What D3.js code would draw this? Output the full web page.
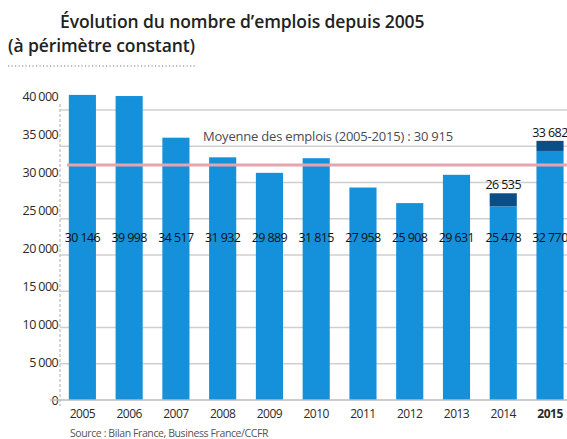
<!DOCTYPE html>
<html>
<head>
<meta charset="utf-8">
<script src="https://cdn.jsdelivr.net/npm/d3@7"></script>
<style>
  body { margin: 0; background: #fff; }
  text { font-family: "Open Sans", sans-serif; }
</style>
</head>
<body>
<svg id="chart" width="567" height="439"></svg>
<script>
// data
var years = ["2005", "2006", "2007", "2008", "2009", "2010", "2011", "2012", "2013", "2014", "2015"];
var values = [40146, 39998, 34517, 31932, 29889, 31815, 27958, 25908, 29631, 25478, 32770];
var valueLabels = ["30 146", "39 998", "34 517", "31 932", "29 889", "31 815", "27 958", "25 908", "29 631", "25 478", "32 770"];
// dark top part (2014, 2015)
var extraYears = ["2014", "2015"];
var extraTops = [27200, 34100];
var extraLabels = ["26 535", "33 682"];
var average = 30915;
var yTicks = [0, 5000, 10000, 15000, 20000, 25000, 30000, 35000, 40000];

var svg = d3.select("#chart");

var x = d3.scaleBand().domain(years).range([59, 573.4]).paddingInner(0.42).paddingOuter(0.21);
var y = d3.scaleLinear().domain([0, 40000]).range([400, 96]);
// the printed grid lines sit a little lower than the value scale
var yGrid = d3.scaleLinear().domain([0, 40000]).range([400, 110]);

var fmt = function(d) { return d3.format(",")(d).replace(/,/g, " "); };

// title
svg.append("text").attr("x", 60).attr("y", 28)
	.attr("font-size", 17.5).attr("font-weight", 600).attr("fill", "#222")
	.attr("letter-spacing", -0.1)
	.text("Évolution du nombre d’emplois depuis 2005");
svg.append("text").attr("x", 8).attr("y", 52)
	.attr("font-size", 17.5).attr("font-weight", 600).attr("fill", "#222")
	.attr("letter-spacing", -0.1)
	.text("(à périmètre constant)");
svg.append("line").attr("x1", 8).attr("x2", 197).attr("y1", 66).attr("y2", 66)
	.attr("stroke", "#777").attr("stroke-width", 1.2).attr("stroke-dasharray", "1.2,2.3");

// grid
svg.append("g").selectAll("line")
	.data(yTicks.slice(1))
	.join("line")
	.attr("x1", 60).attr("x2", 567)
	.attr("y1", d => yGrid(d)).attr("y2", d => yGrid(d))
	.attr("stroke", "#cfcfcf").attr("stroke-width", 1.5);

// vertical axis line
svg.append("line").attr("x1", 60).attr("x2", 60).attr("y1", 104).attr("y2", 406)
	.attr("stroke", "#bbbbbb").attr("stroke-width", 1.2).attr("stroke-dasharray", "3,2");

// y labels
var yAxis = svg.append("g").attr("transform", "translate(58,0)")
	.call(d3.axisLeft(y).tickValues(yTicks).tickSize(0).tickPadding(0).tickFormat(fmt));
yAxis.select(".domain").remove();
yAxis.selectAll("text").attr("font-size", 12.5).attr("fill", "#2a2a2a")
	.attr("letter-spacing", -0.6).style("font-family", "'Open Sans', sans-serif");

// bars
svg.append("g").selectAll("rect")
	.data(years)
	.join("rect")
	.attr("x", d => x(d))
	.attr("width", x.bandwidth())
	.attr("y", (d, i) => y(values[i]))
	.attr("height", (d, i) => y(0) - y(values[i]))
	.attr("fill", "#1591dc");

svg.append("g").selectAll("rect")
	.data(extraYears)
	.join("rect")
	.attr("x", d => x(d))
	.attr("width", x.bandwidth())
	.attr("y", (d, i) => y(extraTops[i]))
	.attr("height", (d, i) => y(values[years.indexOf(d)]) - y(extraTops[i]))
	.attr("fill", "#0b4d86");

// baseline
svg.append("line").attr("x1", 50).attr("x2", 567).attr("y1", 400).attr("y2", 400)
	.attr("stroke", "#bbbbbb").attr("stroke-width", 1.5);

// average
svg.append("line").attr("x1", 67).attr("x2", 567).attr("y1", y(average)).attr("y2", y(average))
	.attr("stroke", "#e6a4ac").attr("stroke-width", 3);
svg.append("text").attr("x", 203).attr("y", 141)
	.attr("font-size", 13).attr("fill", "#4a4a55").attr("letter-spacing", -0.2)
	.text("Moyenne des emplois (2005-2015) : " + fmt(average));

// value labels inside bars
svg.append("g").selectAll("text")
	.data(years)
	.join("text")
	.attr("x", d => x(d) + x.bandwidth() / 2)
	.attr("y", 241.5)
	.attr("text-anchor", "middle")
	.attr("font-size", 12.5).attr("fill", "#111").attr("letter-spacing", -0.6)
	.text((d, i) => valueLabels[i]);

svg.append("g").selectAll("text")
	.data(extraYears)
	.join("text")
	.attr("x", d => x(d) + x.bandwidth() / 2)
	.attr("y", (d, i) => y(extraTops[i]) - 4)
	.attr("text-anchor", "middle")
	.attr("font-size", 12.5).attr("fill", "#111").attr("letter-spacing", -0.6)
	.text((d, i) => extraLabels[i]);

// x labels
var xAxis = svg.append("g").attr("transform", "translate(0,400)")
	.call(d3.axisBottom(x).tickSize(0).tickPadding(9));
xAxis.select(".domain").remove();
xAxis.selectAll("text").attr("font-size", 12).attr("fill", "#2a2a2a")
	.attr("letter-spacing", -0.5).style("font-family", "'Open Sans', sans-serif")
	.attr("font-weight", d => d === "2015" ? 700 : 400);

// source
svg.append("text").attr("x", 70).attr("y", 437)
	.attr("font-size", 10.5).attr("fill", "#555").attr("letter-spacing", -0.4)
	.text("Source : Bilan France, Business France/CCFR");
</script>
</body>
</html>
